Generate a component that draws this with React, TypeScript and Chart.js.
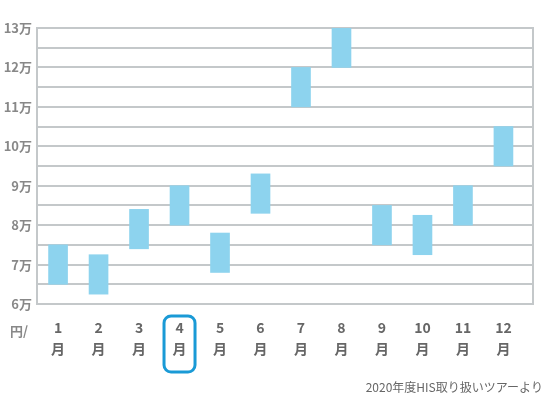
import React, { useEffect, useRef } from "react";
import { Chart, registerables } from "chart.js";

Chart.register(...registerables);

const months = ["1", "2", "3", "4", "5", "6", "7", "8", "9", "10", "11", "12"];
const lowValues = [6.5, 6.25, 7.4, 8, 6.8, 8.3, 11, 12, 7.5, 7.25, 8, 9.5];
const highValues = [7.5, 7.25, 8.4, 9, 7.8, 9.3, 12, 13, 8.5, 8.25, 9, 10.5];
const yMin = 6;
const yMax = 13;
const highlightMonth = 4;
const unitLabel = "円/";
const sourceNote = "2020年度HIS取り扱いツアーより";

const FONT = "'Noto Sans CJK JP', 'Noto Sans', sans-serif";
const GRID = "#c4c8ca";

const extrasPlugin = {
  id: "extras",
  afterDraw(chart: any) {
    const { ctx, chartArea, scales } = chart;
    ctx.save();
    // right border
    ctx.strokeStyle = GRID;
    ctx.lineWidth = 2;
    ctx.beginPath();
    ctx.moveTo(chartArea.right, chartArea.top - 1);
    ctx.lineTo(chartArea.right, chartArea.bottom + 1);
    ctx.stroke();

    // highlight box around 4月
    const cx = scales.x.getPixelForValue(highlightMonth);
    const w = 31;
    const h = 56;
    const x0 = cx - w / 2;
    const y0 = chartArea.bottom + 12;
    const r = 7;
    ctx.strokeStyle = "#1a9ad6";
    ctx.lineWidth = 3;
    ctx.beginPath();
    ctx.moveTo(x0 + r, y0);
    ctx.lineTo(x0 + w - r, y0);
    ctx.arcTo(x0 + w, y0, x0 + w, y0 + r, r);
    ctx.lineTo(x0 + w, y0 + h - r);
    ctx.arcTo(x0 + w, y0 + h, x0 + w - r, y0 + h, r);
    ctx.lineTo(x0 + r, y0 + h);
    ctx.arcTo(x0, y0 + h, x0, y0 + h - r, r);
    ctx.lineTo(x0, y0 + r);
    ctx.arcTo(x0, y0, x0 + r, y0, r);
    ctx.closePath();
    ctx.stroke();

    // unit label
    ctx.fillStyle = "#888";
    ctx.font = `bold 13px ${FONT}`;
    ctx.textBaseline = "middle";
    ctx.textAlign = "left";
    ctx.fillText(unitLabel, 10, chartArea.bottom + 27);

    // source note
    ctx.fillStyle = "#666";
    ctx.font = `12px ${FONT}`;
    ctx.textAlign = "right";
    ctx.fillText(sourceNote, 543, 387);
    ctx.restore();
  },
};

export default function App() {
  const ref = useRef<HTMLCanvasElement | null>(null);
  useEffect(() => {
    if (!ref.current) return;
    const chart = new Chart(ref.current, {
      type: "bar",
      data: {
        datasets: [
          {
            data: lowValues.map((lo, i) => ({ x: i + 1, y: [lo, highValues[i]] })) as any,
            backgroundColor: "#8dd3ee",
            borderWidth: 0,
            barThickness: 19,
          },
        ],
      },
      options: {
        animation: false,
        responsive: false,
        maintainAspectRatio: false,
        layout: { padding: { left: 0, right: 17, top: 28, bottom: 0 } },
        plugins: {
          legend: { display: false },
          tooltip: { enabled: false },
        },
        scales: {
          x: {
            type: "linear",
            min: 0.48,
            max: 12.73,
            offset: false,
            grid: { display: false, drawTicks: false, offset: false },
            border: { display: false },
            ticks: {
              stepSize: 1,
              includeBounds: false,
              color: "#666",
              font: { family: FONT, size: 14, weight: "bold", lineHeight: 1.45 } as any,
              padding: 14,
              maxRotation: 0,
              autoSkip: false,
              callback: (v: any) =>
                Number.isInteger(v) && v >= 1 && v <= months.length ? [months[v - 1], "月"] : "",
            },
            afterFit(scale: any) {
              scale.height = 96;
            },
          },
          y: {
            min: yMin,
            max: yMax,
            grid: { color: GRID, lineWidth: 2, drawTicks: false },
            border: { display: true, color: GRID, width: 2 },
            ticks: {
              stepSize: 0.5,
              color: "#888",
              padding: 5,
              font: { family: FONT, size: 13, weight: "bold" } as any,
              callback: (v: any) => (Number.isInteger(v) ? `${v}万` : ""),
              autoSkip: false,
            },
            afterFit(scale: any) {
              scale.width = 37;
            },
          },
        },
      },
      plugins: [extrasPlugin],
    });
    return () => chart.destroy();
  }, []);
  return (
    <div style={{ position: "absolute", left: 0, top: 0, width: 550, height: 400 }}>
      <canvas ref={ref} width={550} height={400} style={{ width: 550, height: 400 }} />
    </div>
  );
}
